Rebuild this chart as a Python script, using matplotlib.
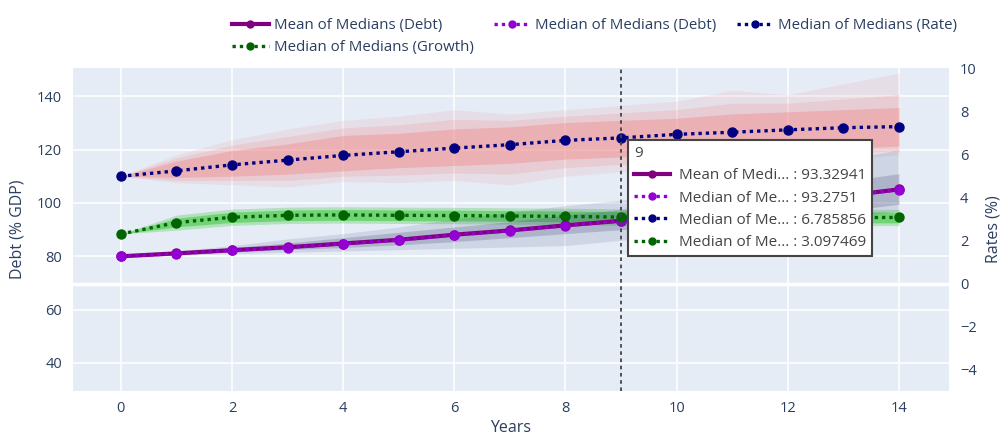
import matplotlib.pyplot as plt
from matplotlib.lines import Line2D
from matplotlib.transforms import blended_transform_factory

plt.rcParams['font.family'] = ['Open Sans', 'DejaVu Sans']

# data
years = list(range(15))
debt_mean = [80.0, 81.1, 82.3, 83.4, 84.8, 86.2, 88.1, 89.7, 91.6, 93.32941, 95.4, 97.7, 100.1, 102.6, 105.1]
debt_median = [80.0, 81.0, 82.2, 83.3, 84.7, 86.1, 88.0, 89.6, 91.5, 93.2751, 95.3, 97.6, 100.0, 102.5, 105.0]
rate_median = [5.0, 5.25, 5.53, 5.75, 5.97, 6.14, 6.31, 6.47, 6.67, 6.785856, 6.95, 7.05, 7.16, 7.26, 7.31]
growth_median = [2.31, 2.84, 3.09, 3.18, 3.20, 3.18, 3.17, 3.15, 3.13, 3.097469, 3.10, 3.09, 3.09, 3.08, 3.08]

# simulation bundles (envelopes)
rate_outer_hi = [5.0, 6.0, 6.7, 7.2, 7.6, 7.8, 8.1, 7.9, 8.1, 8.3, 8.5, 9.0, 8.8, 9.3, 9.8]
rate_outer_lo = [5.0, 4.7, 4.6, 4.5, 4.75, 4.7, 4.8, 4.6, 5.0, 5.2, 5.3, 5.5, 5.6, 5.8, 6.0]
rate_mid_hi = [5.0, 5.85, 6.45, 6.85, 7.25, 7.4, 7.65, 7.6, 7.8, 7.95, 8.1, 8.4, 8.4, 8.6, 8.8]
rate_mid_lo = [5.0, 4.8, 4.8, 4.8, 5.0, 5.05, 5.15, 5.1, 5.4, 5.55, 5.65, 5.8, 5.9, 6.05, 6.2]
rate_inner_hi = [5.0, 5.7, 6.2, 6.5, 6.9, 7.0, 7.2, 7.3, 7.5, 7.6, 7.7, 7.9, 8.0, 8.1, 8.2]
rate_inner_lo = [5.0, 4.95, 5.0, 5.1, 5.25, 5.4, 5.5, 5.6, 5.8, 5.9, 6.0, 6.1, 6.2, 6.3, 6.4]
debt_outer_hi = [80, 82, 84, 86.5, 88.5, 91, 94, 96.5, 99, 101, 104, 108, 112, 116, 120]
debt_outer_lo = [80, 80.5, 81, 81.5, 82, 82.5, 83, 83.5, 84, 86, 88, 90, 92, 94.5, 97]
debt_inner_hi = [80, 81.8, 83.3, 85, 87, 89, 91, 93, 95.5, 97.5, 100, 102.5, 105, 108, 111]
debt_inner_lo = [80, 80.8, 81.6, 82.5, 83.3, 84.3, 85.5, 87, 88.5, 90, 91.5, 93, 95, 97, 99.5]
growth_outer = [0.0, 0.35, 0.38, 0.38, 0.38, 0.38, 0.38, 0.38, 0.38, 0.38, 0.38, 0.38, 0.38, 0.38, 0.38]
growth_inner = [0.0, 0.2, 0.24, 0.25, 0.25, 0.25, 0.25, 0.25, 0.25, 0.25, 0.25, 0.25, 0.25, 0.25, 0.25]

hover_year = 9
names = ['Mean of Medians (Debt)', 'Median of Medians (Debt)',
         'Median of Medians (Rate)', 'Median of Medians (Growth)']
short_names = ['Mean of Medi...', 'Median of Me...', 'Median of Me...', 'Median of Me...']

txt = '#2a3f5f'
fig = plt.figure(figsize=(10.03, 4.37), dpi=100)
ax = fig.add_axes([73 / 1003, 46 / 437, 876 / 1003, 323 / 437])
ax2 = ax.twinx()
ax.set_facecolor('#E5ECF6')
ax.set_axisbelow(True)
ax.grid(True, color='white', lw=1.1)
for a in (ax, ax2):
    for s in a.spines.values():
        s.set_visible(False)
    a.tick_params(length=0, labelsize=10.5, labelcolor=txt)

ax.set_xticks(range(0, 15, 2))
ax.set_yticks(range(40, 141, 20))
ax2.set_yticks(range(-4, 11, 2))
ax.tick_params(axis='y', pad=8)
ax.tick_params(axis='x', pad=7)
ax2.tick_params(axis='y', pad=8)

rt = ax2.transData  # rate/growth series drawn on ax with the right-axis scale
ax.plot([0, 1], [0, 0], color='white', lw=2.5,
        transform=blended_transform_factory(ax.transAxes, rt), zorder=0.6)

# bundles
red = '#f07c7c'
ax.fill_between(years, rate_outer_lo, rate_outer_hi, color=red, alpha=0.12, lw=0, transform=rt, zorder=1)
ax.fill_between(years, rate_mid_lo, rate_mid_hi, color=red, alpha=0.18, lw=0, transform=rt, zorder=1)
ax.fill_between(years, rate_inner_lo, rate_inner_hi, color=red, alpha=0.35, lw=0, transform=rt, zorder=1)
g_lo = [g - w for g, w in zip(growth_median, growth_outer)]
g_hi = [g + w for g, w in zip(growth_median, growth_outer)]
ax.fill_between(years, g_lo, g_hi, color='#3cc83c', alpha=0.3, lw=0, transform=rt, zorder=1.5)
g_lo = [g - w for g, w in zip(growth_median, growth_inner)]
g_hi = [g + w for g, w in zip(growth_median, growth_inner)]
ax.fill_between(years, g_lo, g_hi, color='#3cc83c', alpha=0.55, lw=0, transform=rt, zorder=1.5)
ax.fill_between(years, debt_outer_lo, debt_outer_hi, color='#3a4070', alpha=0.13, lw=0, zorder=2)
ax.fill_between(years, debt_inner_lo, debt_inner_hi, color='#3a4070', alpha=0.22, lw=0, zorder=2)

dot = (0, (1, 1.2))
styles = [
    dict(color='#800080', ls='-', lw=3),
    dict(color='#9400D3', ls=dot, lw=2.4),
    dict(color='#000080', ls=dot, lw=2.4),
    dict(color='#006400', ls=dot, lw=2.4),
]
series = [debt_mean, debt_median, rate_median, growth_median]
transforms = [ax.transData, ax.transData, rt, rt]
for vals, st, tr in zip(series, styles, transforms):
    ax.plot(years, vals, marker='o', ms=6.5, transform=tr, zorder=3, **st)

# hover spike
ax.axvline(hover_year, color='#444444', lw=1.3, ls=(0, (2, 2)), zorder=4)

ax.set_xlim(-0.86, 14.9)
ax.set_ylim(29.5, 150.6)
ax2.set_ylim(-5.0, 10.04)

ax.set_xlabel('Years', fontsize=11.5, color=txt, labelpad=3)
ax.set_ylabel('Debt (% GDP)', fontsize=11.5, color=txt, labelpad=8)
ax2.set_ylabel('Rates (%)', fontsize=11.5, color=txt, labelpad=6)

handles = [Line2D([], [], marker='o', ms=5, **st) for st in styles]
# legend fills column by column, so order the entries to read row by row
order = [0, 3, 1, 2]
fig.legend([handles[i] for i in order], [names[i] for i in order], ncol=3,
           loc='upper left', bbox_to_anchor=(222 / 1003, 1.0 - 8 / 437),
           frameon=False, fontsize=10.8, labelcolor=txt, handlelength=2.4,
           columnspacing=1.35, handletextpad=0.35, labelspacing=0.45, borderaxespad=0.3)

# hover tooltip
labels = [f'{n} : {v[hover_year]:.7g}' for n, v in zip(short_names, series)]
tip = ax.legend(handles, labels, title=str(hover_year), loc='upper left',
                bbox_to_anchor=(0.634, 0.777), borderaxespad=0, alignment='left',
                fontsize=11, title_fontsize=11, fancybox=False, framealpha=1,
                edgecolor='#444444', labelcolor='#444444', handlelength=2.3,
                handletextpad=0.6, labelspacing=0.47, borderpad=0.4)
tip.get_title().set_color('#444444')
tip.get_frame().set_linewidth(1.5)
tip.set_zorder(10)

fig.savefig('out.png', dpi=100)
